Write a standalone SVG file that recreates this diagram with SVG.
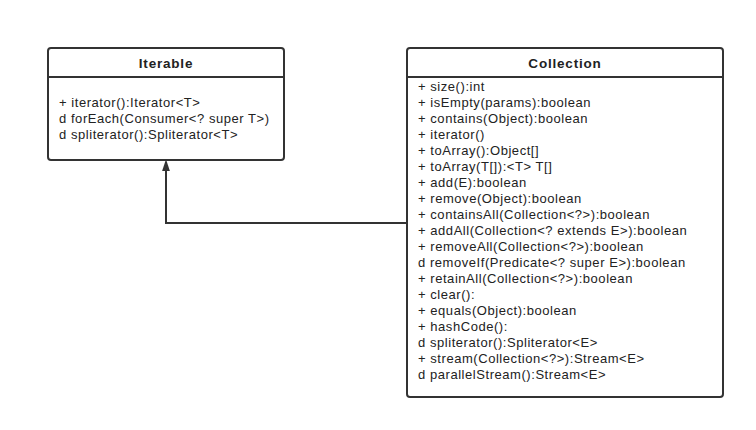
<svg xmlns="http://www.w3.org/2000/svg" width="756" height="430" viewBox="0 0 756 430">
<style>
.box{fill:#fff;stroke:#333;stroke-width:2}
.div{stroke:#333;stroke-width:2}
.t{font-family:"Liberation Sans",Arial,sans-serif;font-size:13px;letter-spacing:0.55px;fill:#222}
.h{font-family:"Liberation Sans",Arial,sans-serif;font-size:13.5px;font-weight:bold;letter-spacing:0.8px;fill:#222;text-anchor:middle}
.c{fill:none;stroke:#333;stroke-width:2}
</style>
<defs>
<marker id="tri" markerWidth="12" markerHeight="18" refX="11" refY="6" orient="auto" markerUnits="userSpaceOnUse" viewBox="0 0 18 12">
<path d="M0,0 L18,6 L0,12 Z" fill="#333"/>
</marker>
</defs>
<rect width="756" height="430" fill="#fff"/>
<g id="connectors">
<path class="c" d="M407,223 H166 V164" marker-end="url(#tri)"/>
</g>
<g id="iterable">
<rect class="box" x="48" y="48" width="236" height="112" rx="3"/>
<line class="div" x1="48" y1="77" x2="284" y2="77"/>
<text class="h" x="166" y="67.5">Iterable</text>
<text class="t" x="59" y="106.5">+ iterator():Iterator&lt;T&gt;</text>
<text class="t" x="59" y="122.5">d forEach(Consumer&lt;? super T&gt;)</text>
<text class="t" x="59" y="138.5">d spliterator():Spliterator&lt;T&gt;</text>
</g>
<g id="collection">
<rect class="box" x="407" y="48" width="316" height="349" rx="3"/>
<line class="div" x1="407" y1="77" x2="723" y2="77"/>
<text class="h" x="565" y="67.5">Collection</text>
<text class="t" x="418" y="90.5">+ size():int</text>
<text class="t" x="418" y="106.5">+ isEmpty(params):boolean</text>
<text class="t" x="418" y="122.5">+ contains(Object):boolean</text>
<text class="t" x="418" y="138.5">+ iterator()</text>
<text class="t" x="418" y="154.5">+ toArray():Object[]</text>
<text class="t" x="418" y="170.5">+ toArray(T[]):&lt;T&gt; T[]</text>
<text class="t" x="418" y="186.5">+ add(E):boolean</text>
<text class="t" x="418" y="202.5">+ remove(Object):boolean</text>
<text class="t" x="418" y="218.5">+ containsAll(Collection&lt;?&gt;):boolean</text>
<text class="t" x="418" y="234.5">+ addAll(Collection&lt;? extends E&gt;):boolean</text>
<text class="t" x="418" y="250.5">+ removeAll(Collection&lt;?&gt;):boolean</text>
<text class="t" x="418" y="266.5">d removeIf(Predicate&lt;? super E&gt;):boolean</text>
<text class="t" x="418" y="282.5">+ retainAll(Collection&lt;?&gt;):boolean</text>
<text class="t" x="418" y="298.5">+ clear():</text>
<text class="t" x="418" y="314.5">+ equals(Object):boolean</text>
<text class="t" x="418" y="330.5">+ hashCode():</text>
<text class="t" x="418" y="346.5">d spliterator():Spliterator&lt;E&gt;</text>
<text class="t" x="418" y="362.5">+ stream(Collection&lt;?&gt;):Stream&lt;E&gt;</text>
<text class="t" x="418" y="378.5">d parallelStream():Stream&lt;E&gt;</text>
</g>
</svg>
